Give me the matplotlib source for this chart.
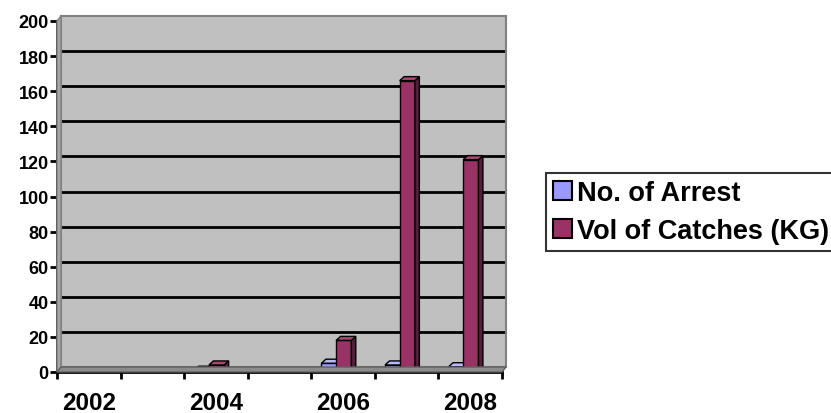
import matplotlib
matplotlib.use("Agg")
import matplotlib.pyplot as plt
from matplotlib.patches import Polygon

plt.rcParams['font.family'] = ['Liberation Sans', 'DejaVu Sans']
plt.rcParams['font.weight'] = 'bold'

years = [2002, 2003, 2004, 2005, 2006, 2007, 2008]
arrests = [0, 0, 1, 0, 5, 4, 3]
catches = [0, 0, 4, 0, 18, 166, 121]
series_names = ['No. of Arrest', 'Vol of Catches (KG)']
y_ticks = list(range(0, 201, 20))

W, H = 831, 414
fig = plt.figure(figsize=(W / 100, H / 100), dpi=100)

# front plane (axis, ticks, bars) and back wall, shifted up-right for the 3D look
left, right, bottom, top = 57, 502, 373, 22
off_x, off_y = 4, 5
rect = [left / W, (H - bottom) / H, (right - left) / W, (bottom - top) / H]
rect_wall = [(left + off_x) / W, (H - bottom + off_y) / H, rect[2], rect[3]]

wall = fig.add_axes(rect_wall)
wall.set_facecolor('#C0C0C0')
wall.set_ylim(0, 200)
wall.set_xlim(-0.5, 6.5)
wall.set_yticks(y_ticks[1:-1])
wall.set_xticks([])
wall.tick_params(left=False, labelleft=False)
wall.grid(True, axis='y', color='black', lw=2)
for s in wall.spines.values():
    s.set_color('#808080')
    s.set_linewidth(1.5)

# side wall and floor
side = Polygon([(left / W, (H - bottom) / H), (left / W, (H - top) / H),
                ((left + off_x) / W, (H - top + off_y) / H),
                ((left + off_x) / W, (H - bottom + off_y) / H)],
               closed=True, transform=fig.transFigure, facecolor='#A6A6A6',
               edgecolor='#808080', lw=1)
floor = Polygon([(left / W, (H - bottom) / H), (right / W, (H - bottom) / H),
                 ((right + off_x) / W, (H - bottom + off_y) / H),
                 ((left + off_x) / W, (H - bottom + off_y) / H)],
                closed=True, transform=fig.transFigure, facecolor='#8C8C8C',
                edgecolor='#606060', lw=1)
fig.patches.extend([side, floor])

ax = fig.add_axes(rect)
ax.set_facecolor('none')
ax.set_xlim(-0.5, 6.5)
ax.set_ylim(0, 200)

colors = [('#9999FF', '#5C5CB8', '#B8B8FF'), ('#993366', '#5A1C3C', '#A8476F')]
bw = 0.24
dx, dy = 0.07, 2.3
starts = [-0.34, -0.11]

for i in range(len(years)):
    for k, vals in enumerate([arrests, catches]):
        v = vals[i]
        x0 = i + starts[k]
        front, dark, light = colors[k]
        if v > 0:
            ax.bar(x0, v, bw, align='edge', color=front, edgecolor='black',
                   lw=1, zorder=3 + k)
            ax.add_patch(Polygon([(x0 + bw, 0), (x0 + bw + dx, dy),
                                  (x0 + bw + dx, v + dy), (x0 + bw, v)],
                                 closed=True, facecolor=dark, edgecolor='black',
                                 lw=1, zorder=3 + k))
        ax.add_patch(Polygon([(x0, v), (x0 + dx, v + dy), (x0 + bw + dx, v + dy),
                              (x0 + bw, v)], closed=True, facecolor=light,
                             edgecolor='black', lw=1, zorder=3 + k))

for s in ['top', 'right']:
    ax.spines[s].set_visible(False)
for s in ['left', 'bottom']:
    ax.spines[s].set_linewidth(2)
    ax.spines[s].set_color('black')

ax.set_yticks(y_ticks)
ax.set_yticklabels([str(t) for t in y_ticks], fontsize=13, fontweight='bold')
ax.tick_params(axis='y', length=5, width=2, pad=1)

ax.set_xticks([i - 0.5 for i in range(len(years) + 1)])
ax.set_xticklabels([])
ax.tick_params(axis='x', which='major', length=5, width=2)
ax.set_xticks(range(0, len(years), 2), minor=True)
ax.set_xticklabels([str(y) for y in years[::2]], minor=True,
                   fontsize=17.5, fontweight='bold')
ax.tick_params(axis='x', which='minor', length=0, pad=14)

handles = [plt.Rectangle((0, 0), 1, 1, facecolor=c[0], edgecolor='black', lw=1.5)
           for c in colors]
leg = fig.legend(handles, series_names, loc='upper left',
                 bbox_to_anchor=(546 / W, 1 - 174 / H),
                 prop={'weight': 'bold', 'size': 19.5},
                 frameon=True, fancybox=False, borderpad=0.25,
                 handlelength=0.7, handleheight=0.7, handletextpad=0.2,
                 labelspacing=0.45, borderaxespad=0)
leg.get_frame().set_edgecolor('black')
leg.get_frame().set_linewidth(1.5)

fig.savefig('out.png', dpi=100)
